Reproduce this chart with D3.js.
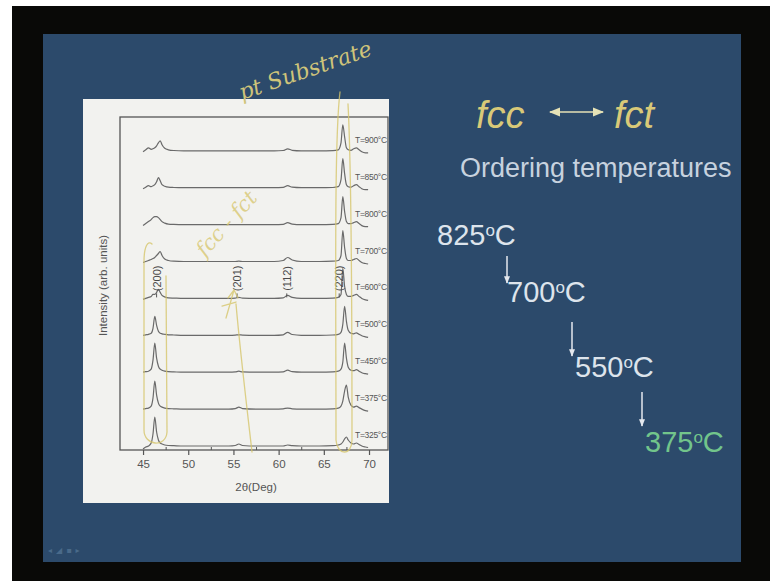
<!DOCTYPE html>
<html>
<head>
<meta charset="utf-8">
<script src="https://cdn.jsdelivr.net/npm/d3@7"></script>
<style>
  html, body { margin: 0; padding: 0; background: #fff; }
  svg { display: block; }
</style>
</head>
<body>
<div id="slide"></div>
<script>
// 2theta grid (deg) shared by all scans
var twoTheta = [45.0, 45.3, 45.6, 45.9, 46.1, 46.3, 46.5, 46.7, 46.9, 47.1, 47.4, 47.8, 48.4, 49.5, 52.0,
  54.5, 55.2, 55.6, 56.0, 57.5, 59.5, 60.5, 61.0, 61.5, 62.5, 64.5, 66.0, 66.6, 66.9, 67.1,
  67.3, 67.5, 67.7, 68.0, 68.3, 68.6, 68.9, 69.2, 69.6, 69.9];

// annealing temperatures, bottom scan first
var temps = ["T=325°C", "T=375°C", "T=450°C", "T=500°C", "T=600°C", "T=700°C", "T=800°C", "T=850°C", "T=900°C"];

// intensity above each scan's own baseline (arb. units)
var scan325 = [-3, -1, 0, 3, 12, 29, 14, 6, 3, 2, 1, 0.5, 0.3, 0, 0,
  0, 0.5, 2, 0.5, 0, 0, 0, 1, 0.3, 0, 0, 0.3, 1, 2, 4,
  7, 9, 6, 3, 2, 3, 1.5, 0, -1, -1.5];
var scan375 = [0, 0.5, 1, 3, 11, 28, 14, 6, 3, 2, 1, 0.5, 0.3, 0, 0,
  0, 0.5, 2, 0.5, 0, 0, 0.3, 1, 0.3, 0, 0, 0.3, 1, 3, 8,
  18, 24, 12, 4, 2, 3, 1.5, 0, -1.5, -2];
var scan450 = [0, 0.5, 1, 3, 12, 29, 14, 6, 3, 2, 1, 0.5, 0.3, 0, 0,
  0, 0.3, 1, 0.3, 0, 0, 0.3, 2, 0.5, 0, 0, 0.3, 1, 3, 10,
  29, 14, 5, 2, 1.5, 2.5, 1, -0.5, -1.5, -2];
var scan500 = [0, 0.5, 1, 2, 7, 19, 10, 4, 2, 1.5, 1, 0.5, 0.3, 0, 0,
  0, 0.2, 0.5, 0.2, 0, 0, 0.5, 3, 0.8, 0, 0, 0.3, 1, 3, 11,
  29, 14, 5, 2, 1.5, 2.5, 1, -0.5, -1.5, -2];
var scan600 = [-1, 0, 1, 2, 4, 4, 6, 9, 6, 3, 1.5, 0.5, 0.3, 0, 0,
  0, 0.3, 1, 0.3, 0, 0, 0.5, 3, 1, 0, 0, 0.3, 1, 4, 30,
  12, 4, 2, 2, 3, 4, 2, 0, -1.5, -2];
var scan700 = [-1, 0, 1, 2, 3, 4, 6, 8, 10, 6, 2.5, 1, 0.3, 0, 0,
  0, 0, 0.3, 0, 0, 0, 1, 4, 1.5, 0, 0, 0.3, 1, 6, 31,
  14, 3, 1, 1, 2, 3, 1, -1, -2, -2.5];
var scan800 = [-1, 1, 3, 5, 7, 8, 8, 7, 5, 3, 1.5, 0.5, 0.2, 0, 0,
  0, 0, 0, 0, 0, 0, 0.3, 2, 0.5, 0, 0, 0.2, 1, 7, 28,
  13, 3, 1, 1, 2, 3, 1, -1, -2, -2];
var scan850 = [-1, 0.5, 2, 1, 2, 3, 6, 10, 7, 3, 1.5, 0.5, 0.2, 0, 0,
  0, 0, 0, 0, 0, 0, 0.3, 2, 0.5, 0, 0, 0.2, 1, 8, 29,
  14, 3, 1, 0.5, 2, 3, 1, -1, -2, -2];
var scan900 = [-1, 1, 3, 1.5, 2, 3, 5, 8, 10, 6, 2.5, 1, 0.3, 0, 0,
  0, 0, 0, 0, 0, 0, 0.3, 2, 0.5, 0, 0, 0.2, 1, 8, 26,
  14, 3, 1, 0.5, 2, 3, 1, -1, -2, -2];
var scans = [scan325, scan375, scan450, scan500, scan600, scan700, scan800, scan850, scan900];

// reflection labels
var hkl = ["(200)", "(201)", "(112)", "(220)"];
var hklPos = [46.5, 55.4, 60.9, 66.7];

var xTicks = [45, 50, 55, 60, 65, 70];
var xMinor = [47.5, 52.5, 57.5, 62.5, 67.5];

// right hand side of the slide
var orderTemps = ["825", "700", "550", "375"];

var W = 770, H = 581;
var svg = d3.select("#slide").append("svg").attr("width", W).attr("height", H);

// screen frame + slide
svg.append("rect").attr("width", W).attr("height", H).attr("fill", "#fff");
svg.append("rect").attr("x", 12).attr("y", 6).attr("width", W - 12).attr("height", H - 6).attr("fill", "#090907");
svg.append("rect").attr("x", 43).attr("y", 34).attr("width", 698).attr("height", 528).attr("fill", "#2c4a6b");

// figure panel
svg.append("rect").attr("x", 83).attr("y", 99).attr("width", 306).attr("height", 404).attr("fill", "#f2f2ef");

var frame = { left: 120, top: 117, right: 388, bottom: 450 };
var x = d3.scaleLinear().domain([42.45, 72.1]).range([frame.left, frame.right]);
var y = d3.scaleLinear().domain([-4, 329]).range([frame.bottom, frame.top]);
var step = 36.9; // vertical spacing between stacked scans

var plot = svg.append("g");

plot.append("rect")
  .attr("x", frame.left).attr("y", frame.top)
  .attr("width", frame.right - frame.left).attr("height", frame.bottom - frame.top)
  .attr("fill", "none").attr("stroke", "#555").attr("stroke-width", 1.3);

var line = d3.line()
  .x(function(d) { return x(d[0]); })
  .y(function(d) { return y(d[1]); })
  .curve(d3.curveMonotoneX);

scans.forEach(function(s, i) {
  var pts = twoTheta.map(function(t, j) { return [t, s[j] + i * step]; });
  plot.append("path")
    .attr("d", line(pts))
    .attr("fill", "none")
    .attr("stroke", "#6a6a6a")
    .attr("stroke-width", 1.2);
  plot.append("text")
    .attr("x", x(70.0) - 14)
    .attr("y", y(i * step) - 8)
    .attr("font-family", "Liberation Sans Narrow, Liberation Sans, Arial")
    .attr("font-size", 8.5)
    .attr("letter-spacing", -0.3)
    .attr("fill", "#555")
    .text(temps[i]);
});

// hkl labels sit just above the T=600 scan
var hklBase = y(4 * step);
hkl.forEach(function(lab, i) {
  var cx = x(hklPos[i]);
  plot.append("text")
    .attr("transform", "translate(" + (cx + 4) + "," + (hklBase - 20) + ") rotate(-90)")
    .attr("text-anchor", "middle")
    .attr("font-family", "Liberation Sans, Arial")
    .attr("font-size", 11)
    .attr("fill", "#4a4a4a")
    .text(lab);
  plot.append("line")
    .attr("x1", cx).attr("x2", cx)
    .attr("y1", hklBase - 5).attr("y2", hklBase - 1)
    .attr("stroke", "#555").attr("stroke-width", 1);
});

// x axis
var xAxis = d3.axisBottom(x).tickValues(xTicks).tickSize(5).tickPadding(5).tickFormat(d3.format("d"));
var gx = plot.append("g").attr("transform", "translate(0," + frame.bottom + ")").call(xAxis);
gx.select(".domain").remove();
gx.selectAll("line").attr("stroke", "#555").attr("stroke-width", 1.2);
gx.selectAll("text").attr("font-family", "Liberation Sans, Arial").attr("font-size", 11.5).attr("fill", "#555");
var gm = plot.append("g").attr("transform", "translate(0," + frame.bottom + ")")
  .call(d3.axisBottom(x).tickValues(xMinor).tickSize(-3).tickFormat(""));
gm.select(".domain").remove();
gm.selectAll("line").attr("stroke", "#555");

plot.append("text")
  .attr("x", x(57.5)).attr("y", 491)
  .attr("text-anchor", "middle")
  .attr("font-family", "Liberation Sans, Arial")
  .attr("font-size", 11.5)
  .attr("fill", "#555")
  .text("2θ(Deg)");

plot.append("text")
  .attr("transform", "translate(107," + ((frame.top + frame.bottom) / 2 + 2) + ") rotate(-90)")
  .attr("text-anchor", "middle")
  .attr("font-family", "Liberation Sans, Arial")
  .attr("font-size", 11.5)
  .attr("fill", "#555")
  .text("Intensity (arb. units)");

// lecturer's pen annotations
var pen = svg.append("g").attr("fill", "none").attr("stroke", "#d6c56c")
  .attr("stroke-width", 1.3).attr("stroke-opacity", 0.8).attr("stroke-linecap", "round");
pen.append("path").attr("d", "M152,244 C148,240 144,246 144,262 L144,430 C144,446 166,448 167,432 L166,276");
pen.append("path").attr("d", "M340,92 C334,140 336,300 336,440 C337,456 352,456 352,440 C352,300 351,160 348,104");
pen.append("path").attr("d", "M236,304 C240,350 246,400 252,452");
pen.append("path").attr("d", "M226,318 L234,290 M228,298 L234,290 L238,298 M222,306 L236,302");

svg.append("text")
  .attr("transform", "translate(205,258) rotate(-48)")
  .attr("font-family", "DejaVu Serif, serif")
  .attr("font-style", "italic")
  .attr("font-size", 21)
  .attr("fill", "#d6c56c").attr("fill-opacity", 0.75)
  .text("fcc - fct");

svg.append("text")
  .attr("transform", "translate(242,100) rotate(-19)")
  .attr("font-family", "DejaVu Serif, serif")
  .attr("font-style", "italic")
  .attr("font-size", 22)
  .attr("fill", "#cfc47a")
  .text("pt Substrate");

// right hand text
var gold = "#d9c978";
svg.append("text").attr("x", 476).attr("y", 128)
  .attr("font-family", "Liberation Sans, Arial").attr("font-style", "italic")
  .attr("font-size", 38).attr("fill", gold).text("fcc");
svg.append("text").attr("x", 614).attr("y", 128)
  .attr("font-family", "Liberation Sans, Arial").attr("font-style", "italic")
  .attr("font-size", 38).attr("fill", gold).text("fct");

var defs = svg.append("defs");
defs.append("marker").attr("id", "ah").attr("viewBox", "0 0 10 10").attr("refX", 9).attr("refY", 5)
  .attr("markerWidth", 7).attr("markerHeight", 7).attr("orient", "auto-start-reverse")
  .append("path").attr("d", "M0,1 L10,5 L0,9 Z").attr("fill", "#e6e2b6");
defs.append("marker").attr("id", "dn").attr("viewBox", "0 0 10 10").attr("refX", 9).attr("refY", 5)
  .attr("markerWidth", 5).attr("markerHeight", 5).attr("orient", "auto")
  .append("path").attr("d", "M0,1 L10,5 L0,9 Z").attr("fill", "#e4e8ee");

svg.append("line").attr("x1", 550).attr("x2", 603).attr("y1", 112).attr("y2", 112)
  .attr("stroke", "#e6e2b6").attr("stroke-width", 1.6)
  .attr("marker-start", "url(#ah)").attr("marker-end", "url(#ah)");

svg.append("text").attr("x", 460).attr("y", 177)
  .attr("font-family", "Liberation Sans, Arial").attr("font-size", 27)
  .attr("fill", "#c7d2df").text("Ordering temperatures");

var tx = [437, 507, 575, 645];
var ty = [245, 302, 377, 452];
orderTemps.forEach(function(t, i) {
  var el = svg.append("text").attr("x", tx[i]).attr("y", ty[i])
    .attr("font-family", "Liberation Sans, Arial").attr("font-size", 29)
    .attr("fill", i === 3 ? "#72c58b" : "#dde4ec");
  el.append("tspan").text(t);
  el.append("tspan").attr("font-size", 17).attr("dy", -9).text("o");
  el.append("tspan").attr("dy", 9).text("C");
});

var arrows = [[507, 256, 283], [572, 322, 356], [642, 392, 426]];
arrows.forEach(function(a) {
  svg.append("line").attr("x1", a[0]).attr("x2", a[0]).attr("y1", a[1]).attr("y2", a[2])
    .attr("stroke", "#e4e8ee").attr("stroke-width", 1.5).attr("marker-end", "url(#dn)");
});

// faint slide navigation glyphs
svg.append("text").attr("x", 48).attr("y", 553)
  .attr("font-family", "DejaVu Sans").attr("font-size", 8).attr("letter-spacing", 4).attr("fill", "#4a6a8a")
  .text("◂◢▪▸");
</script>
</body>
</html>
